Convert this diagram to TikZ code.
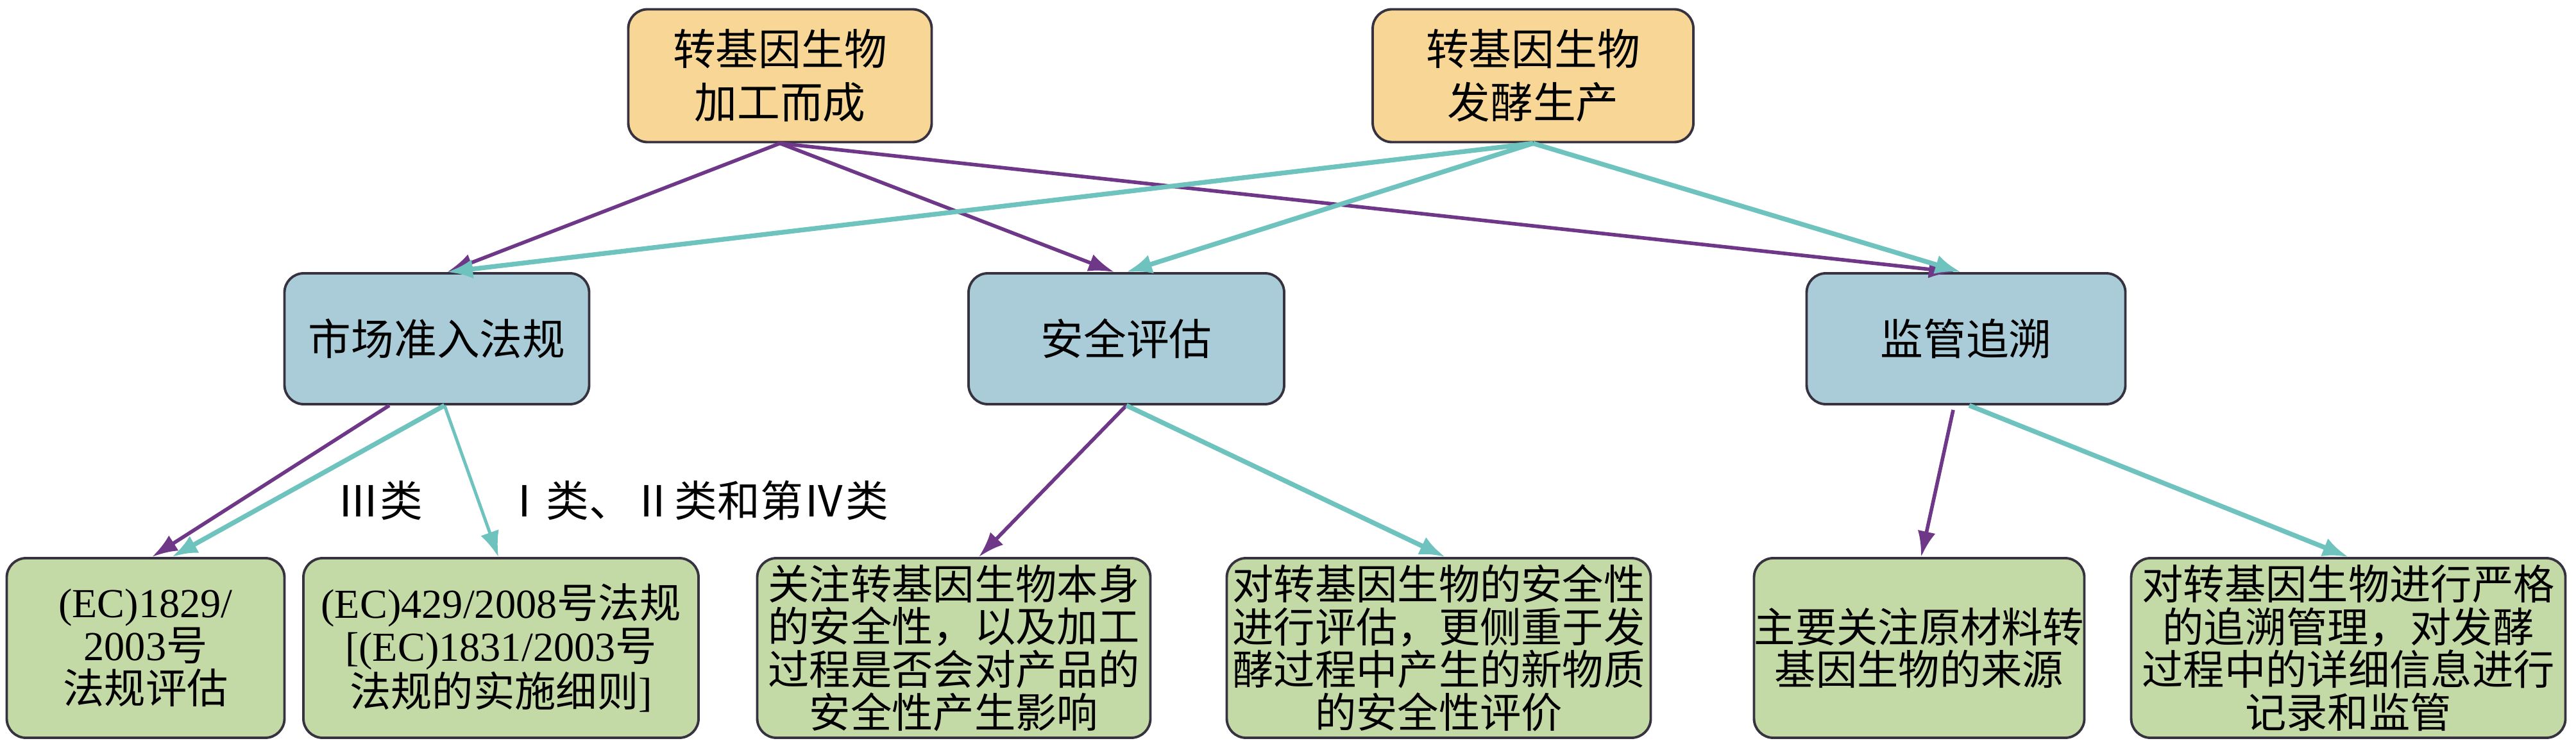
\documentclass[tikz,border=0pt]{standalone}
\usepackage{fontspec}
\setmainfont{Noto Sans CJK SC}
\newfontfamily\romfont{Liberation Serif}
\usepackage{tikz}
\usetikzlibrary{arrows.meta}
\usetikzlibrary{positioning}

\definecolor{srcfill}{HTML}{F7D696}
\definecolor{hubfill}{HTML}{AACCD8}
\definecolor{leaffill}{HTML}{C4DAA6}
\definecolor{boxline}{HTML}{37323F}
\definecolor{pucol}{HTML}{6E3787}
\definecolor{tqcol}{HTML}{6EC3BE}

\begin{document}
\begin{tikzpicture}[on grid, inner sep=0pt,
    box/.style={draw=boxline, line width=1.1pt, rounded corners=0.3cm, align=center},
    src/.style={box, fill=srcfill, minimum height=2.07cm, font=\fontsize{19}{23.5}\selectfont},
    hub/.style={box, fill=hubfill, minimum height=2.04cm, minimum width=4.85cm, font=\fontsize{19}{23.5}\selectfont},
    leaf/.style={box, fill=leaffill, minimum height=2.8cm, font=\fontsize{18.3}{19}\selectfont},
    pu/.style={draw=pucol, line width=1.6pt, -{Latex[length=4mm,width=2.8mm]}},
    tq/.style={draw=tqcol, line width=2.1pt, -{Latex[length=4mm,width=3mm]}},
    tag/.style={font=\fontsize{19}{23.5}\selectfont}]
    \useasboundingbox (0,0) rectangle (40.16,-11.55);
    % top row
    \node[src, minimum width=4.73cm] (gmp) at (12.16,-1.18) {转基因生物\\加工而成};
    \node[src, minimum width=5cm, right=11.74cm of gmp] (gmf) {转基因生物\\发酵生产};
    % middle row
    \node[hub, minimum width=4.75cm] (mkt) at (6.81,-5.28) {市场准入法规};
    \node[hub, minimum width=4.92cm, right=10.75cm of mkt] (safe) {安全评估};
    \node[hub, minimum width=4.97cm, right=13.09cm of safe] (trace) {监管追溯};
    % bottom row
    \node[leaf, minimum width=4.33cm] (r1829) at (2.27,-10.10) {{\romfont (EC)1829/}\\{\romfont 2003}号\\法规评估};
    \node[leaf, minimum width=6.16cm, right=5.54cm of r1829] (r429) {{\romfont (EC)429/2008}号法规\\{\romfont [(EC)1831/2003}号\\法规的实施细则{\romfont ]}};
    \node[leaf, minimum width=6.13cm, right=7.06cm of r429] (selfsafe) {关注转基因生物本身\\的安全性，以及加工\\过程是否会对产品的\\安全性产生影响};
    \node[leaf, minimum width=6.61cm, right=7.56cm of selfsafe] (newsafe) {对转基因生物的安全性\\进行评估，更侧重于发\\酵过程中产生的新物质\\的安全性评价};
    \node[leaf, minimum width=5.15cm, right=7.49cm of newsafe] (origin) {主要关注原材料转\\基因生物的来源};
    \node[leaf, minimum width=6.77cm, right=6.69cm of origin] (record) {对转基因生物进行严格\\的追溯管理，对发酵\\过程中的详细信息进行\\记录和监管};
    % class labels
    \node[tag] (cl3) at (5.92,-7.80) {Ⅲ类};
    \node[tag] (cl124) at (10.85,-7.80) {Ⅰ类、Ⅱ类和第Ⅳ类};

    \path (gmp.south) edge[pu] ([xshift=0.16cm]mkt.north)
                      edge[pu] ([xshift=-0.19cm]safe.north)
                      edge[pu] ([xshift=-0.18cm]trace.north);
    \path (gmf.south) edge[tq] ([xshift=0.16cm]mkt.north)
                      edge[tq] (safe.north)
                      edge[tq] ([xshift=-0.08cm]trace.north);
    \path ([xshift=-0.74cm]mkt.south) edge[pu] ([xshift=0.10cm]r1829.north);
    \path ([xshift=0.12cm]mkt.south) edge[tq] ([xshift=0.41cm]r1829.north)
                      edge[tq, line width=1.4pt] ([xshift=-0.04cm]r429.north);
    \path (safe.south) edge[pu] ([xshift=0.39cm]selfsafe.north)
                      edge[tq] ([xshift=0.10cm]newsafe.north);
    \path ([xshift=-0.20cm,yshift=-0.07cm]trace.south) edge[pu] ([xshift=0.03cm]origin.north);
    \path ([xshift=0.05cm]trace.south) edge[tq] (record.north);
\end{tikzpicture}
\end{document}
